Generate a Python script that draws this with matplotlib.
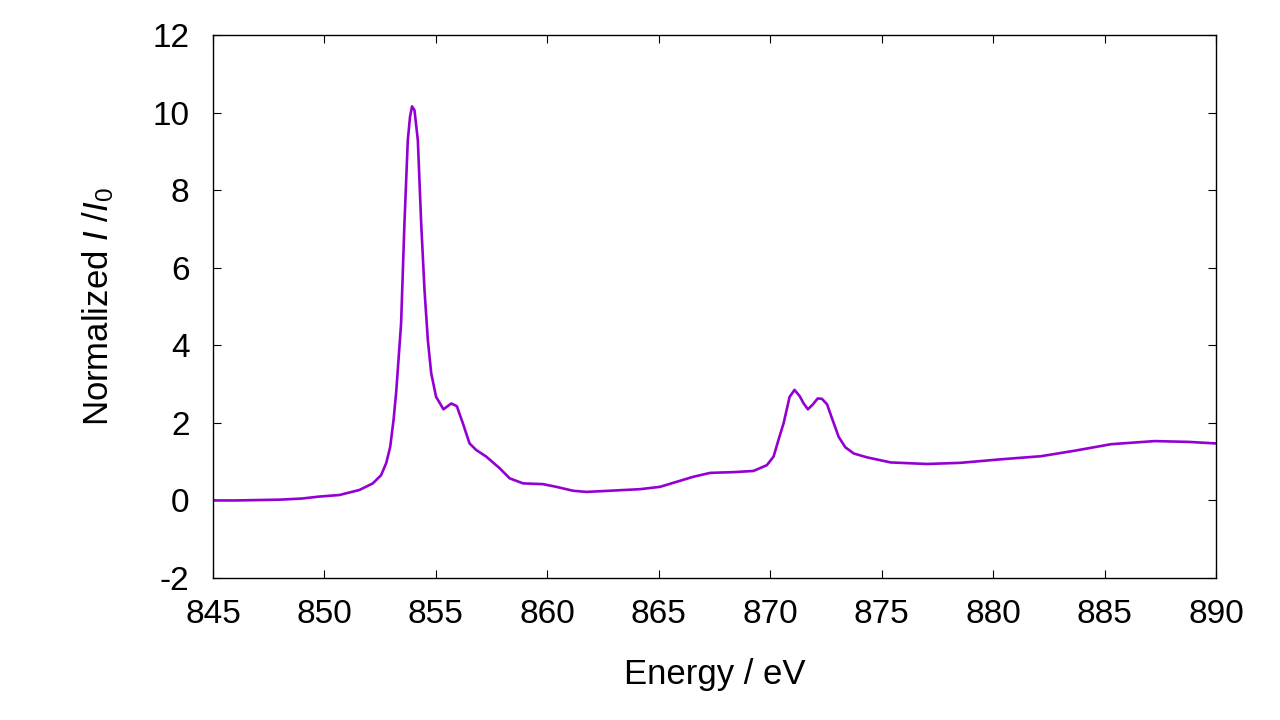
import matplotlib
matplotlib.use("Agg")
import matplotlib.pyplot as plt

# energy (eV) and normalized I/I0
energy = [845.0, 846.0, 847.0, 848.0, 849.0, 849.77, 850.67, 851.57, 852.17, 852.54,
          852.77, 852.95, 853.10, 853.22, 853.44, 853.59, 853.74, 853.84, 853.93,
          854.04, 854.19, 854.34, 854.49, 854.64, 854.79, 855.01, 855.34, 855.69,
          855.94, 856.21, 856.51, 856.81, 857.26, 857.86, 858.31, 858.91, 859.81,
          860.41, 861.15, 861.75, 862.80, 864.15, 865.05, 865.80, 866.55, 867.30,
          868.35, 869.25, 869.85, 870.15, 870.37, 870.60, 870.87, 871.09, 871.32,
          871.50, 871.69, 871.92, 872.13, 872.32, 872.55, 872.77, 873.07, 873.37,
          873.75, 874.35, 875.40, 877.04, 878.54, 880.34, 882.14, 883.64, 885.29,
          887.24, 888.74, 890.0]
intensity = [0.0, 0.0, 0.01, 0.02, 0.05, 0.10, 0.14, 0.27, 0.44, 0.65,
             0.96, 1.38, 2.07, 2.80, 4.57, 7.15, 9.29, 9.89, 10.16,
             10.06, 9.29, 7.15, 5.42, 4.13, 3.28, 2.67, 2.35, 2.50,
             2.43, 1.99, 1.47, 1.30, 1.13, 0.83, 0.57, 0.44, 0.42,
             0.35, 0.25, 0.22, 0.25, 0.29, 0.35, 0.48, 0.61, 0.71,
             0.73, 0.76, 0.91, 1.13, 1.56, 1.99, 2.67, 2.85, 2.69,
             2.50, 2.35, 2.48, 2.63, 2.62, 2.48, 2.12, 1.64, 1.37,
             1.21, 1.11, 0.98, 0.94, 0.97, 1.06, 1.14, 1.28, 1.45,
             1.53, 1.51, 1.47]

plt.rcParams['font.family'] = ['Liberation Sans', 'DejaVu Sans']
plt.rcParams['mathtext.fontset'] = 'custom'
plt.rcParams['mathtext.rm'] = 'Liberation Sans'
plt.rcParams['mathtext.it'] = 'Liberation Sans:italic'
plt.rcParams['axes.unicode_minus'] = False

fig = plt.figure(figsize=(12.8, 7.2), dpi=100)
ax = fig.add_axes([0.1664, 0.1972, 0.7836, 0.7542])

ax.plot(energy, intensity, color='#9400D3', linewidth=1.9)

ax.set_xlim(845, 890)
ax.set_ylim(-2, 12)
ax.set_xticks(range(845, 891, 5))
ax.set_yticks(range(-2, 13, 2))
ax.tick_params(direction='in', top=True, right=True, length=6, width=0.8,
               labelsize=24)
ax.tick_params(axis='x', pad=15)
ax.tick_params(axis='y', pad=17)
for s in ax.spines.values():
    s.set_linewidth(1.0)

ax.set_xlabel('Energy / eV', fontsize=25, labelpad=20)
ax.set_ylabel(r'Normalized $\mathit{I}$ /$\mathit{I}_0$', fontsize=25, labelpad=26)

fig.savefig('out.png', dpi=100)
